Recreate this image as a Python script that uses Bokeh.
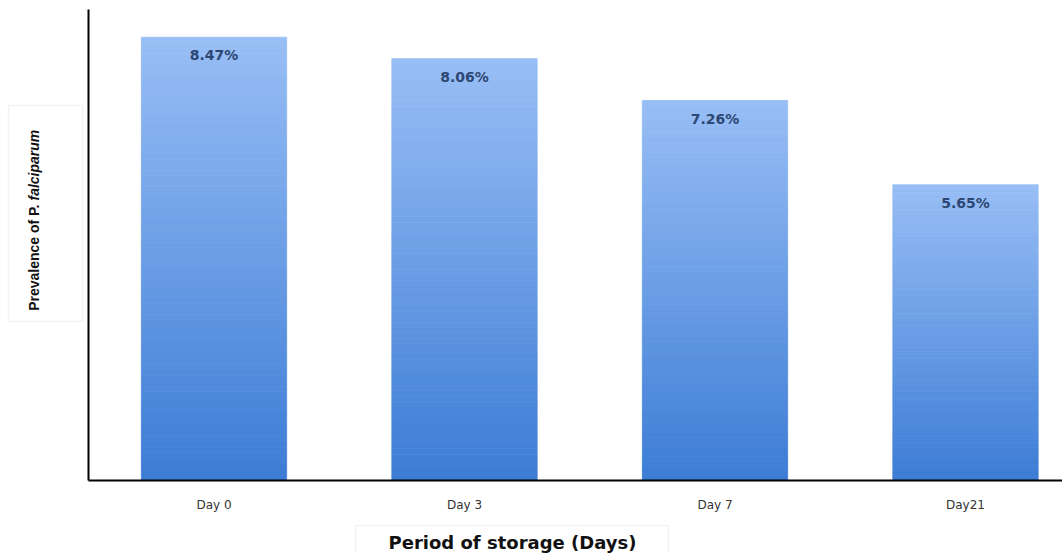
import math
from bokeh.plotting import figure
from bokeh.models import Label, BoxAnnotation, Range1d
from bokeh.core.properties import value
from bokeh.embed import file_html
from bokeh.resources import INLINE

# ---- data ----
categories = ["Day 0", "Day 3", "Day 7", "Day21"]
prevalence = [8.47, 8.06, 7.26, 5.65]
value_labels = ["8.47%", "8.06%", "7.26%", "5.65%"]
x_axis_title = "Period of storage (Days)"
y_axis_title_roman = "Prevalence of P."
y_axis_title_italic = "falciparum"

# ---- layout / style ----
W, H = 1062, 553
AX_LEFT, AX_TOP, AX_BOTTOM = 88, 9, 480      # pixel positions of the axes
X0_PX, X_STEP_PX = 213.5, 250.5               # category centre / spacing
Y_SCALE = (AX_BOTTOM - AX_TOP) / 9.0          # pixels per unit (0..9 axis)
BAR_W = 0.58
TOP_RGB = (152, 190, 245)
BOT_RGB = (60, 124, 213)
NSLICE = 80


def px_x(px):
    return (px - X0_PX) / X_STEP_PX


def px_y(py):
    return (AX_BOTTOM - py) / Y_SCALE


p = figure(width=W, height=H, x_range=Range1d(px_x(0), px_x(W)),
           y_range=Range1d(px_y(H), px_y(0)), output_backend="svg",
           toolbar_location=None, min_border=0,
           x_axis_type=None, y_axis_type=None)
p.outline_line_color = None
p.background_fill_color = "white"
p.border_fill_color = "white"
p.grid.visible = False

# gradient bars as stacked slices
xs, bots, tops, cols = [], [], [], []
for i, v in enumerate(prevalence):
    for k in range(NSLICE):
        t = (k + 0.5) / NSLICE
        r = round(BOT_RGB[0] + (TOP_RGB[0] - BOT_RGB[0]) * t)
        g = round(BOT_RGB[1] + (TOP_RGB[1] - BOT_RGB[1]) * t)
        b = round(BOT_RGB[2] + (TOP_RGB[2] - BOT_RGB[2]) * t)
        xs.append(i)
        bots.append(v * k / NSLICE)
        tops.append(v * (k + 1) / NSLICE)
        cols.append("#%02x%02x%02x" % (r, g, b))
p.vbar(x=xs, width=BAR_W, bottom=bots, top=tops, fill_color=cols,
       line_color=cols, line_width=0.8)

# value labels
p.text(x=list(range(len(categories))), y=prevalence, text=value_labels,
       text_align="center", text_baseline="top", y_offset=10,
       text_font=value("DejaVu Sans"), text_font_style="bold",
       text_font_size="14px", text_color="#2c4773")

# axis lines
p.segment(x0=[px_x(AX_LEFT), px_x(AX_LEFT)], y0=[0, 0],
          x1=[px_x(W), px_x(AX_LEFT)], y1=[0, px_y(AX_TOP)],
          line_color="black", line_width=2)

# category (tick) labels
p.text(x=list(range(len(categories))), y=[0] * len(categories),
       text=categories, text_align="center", text_baseline="top",
       y_offset=17, text_font=value("DejaVu Sans"),
       text_font_size="12px", text_color="#333333")

# title boxes
p.add_layout(BoxAnnotation(left=px_x(8), right=px_x(82), top=px_y(105),
                           bottom=px_y(321), fill_color="white", fill_alpha=1,
                           line_color="#d6d6d6", line_width=1.5))
p.add_layout(BoxAnnotation(left=px_x(355), right=px_x(668), top=px_y(525),
                           bottom=px_y(565), fill_color="white", fill_alpha=1,
                           line_color="#d6d6d6", line_width=1.5))

p.add_layout(Label(x=px_x(512), y=px_y(542), text=x_axis_title,
                   text_align="center", text_baseline="middle",
                   text_font="DejaVu Sans", text_font_style="bold",
                   text_font_size="18px", text_color="#111111"))

# y title: roman part ends at the junction, italic part starts there
YFONT = "Liberation Sans"
p.add_layout(Label(x=px_x(33), y=px_y(204), angle=math.pi / 2,
                   text=y_axis_title_roman, text_align="right",
                   text_baseline="middle", text_font=YFONT,
                   text_font_style="bold", text_font_size="14px",
                   text_color="#111111"))
p.add_layout(Label(x=px_x(33), y=px_y(200), angle=math.pi / 2,
                   text=y_axis_title_italic, text_align="left",
                   text_baseline="middle", text_font=YFONT,
                   text_font_style="bold italic", text_font_size="14px",
                   text_color="#111111"))

open("out.html", "w").write(file_html(p, INLINE))
